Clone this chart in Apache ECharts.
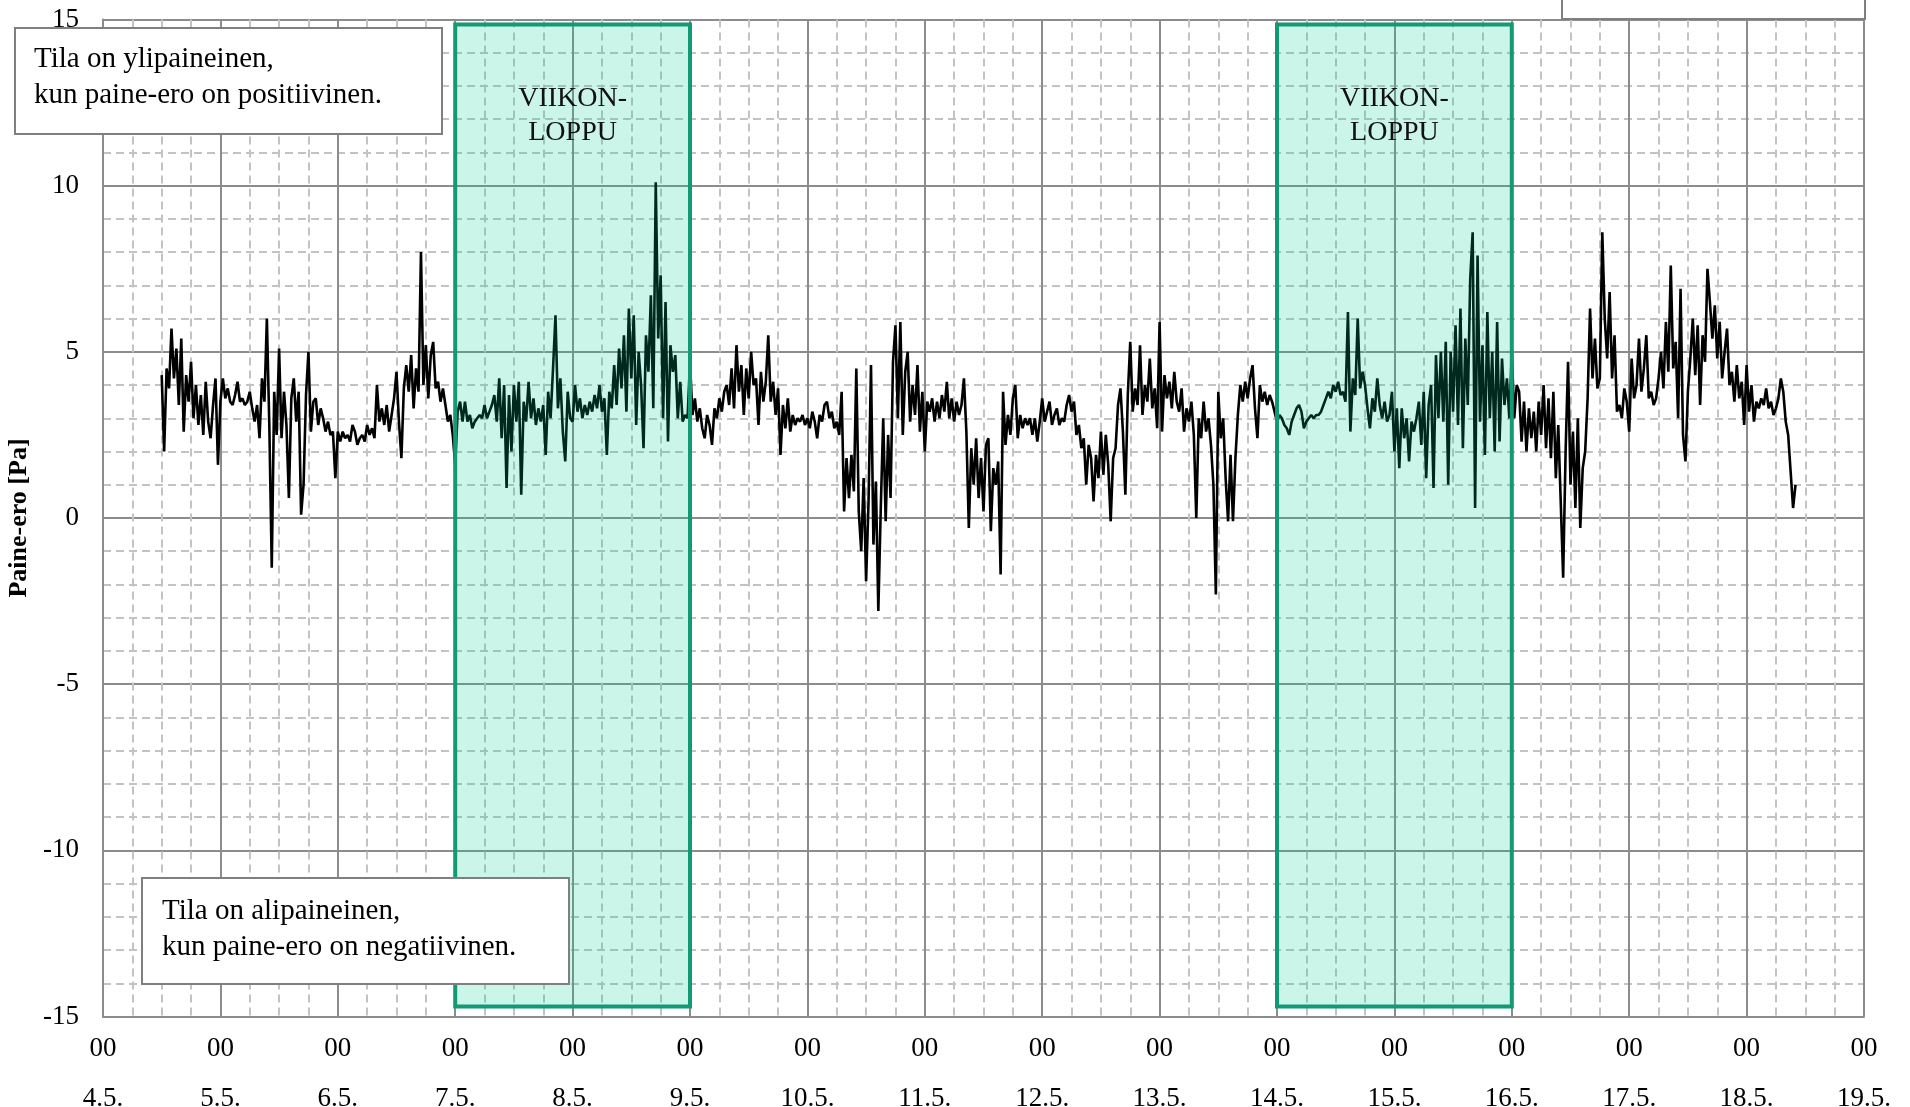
<!DOCTYPE html>
<html>
<head>
<meta charset="utf-8">
<script src="https://cdn.jsdelivr.net/npm/echarts@6/dist/echarts.min.js"></script>
<style>
  html, body { margin: 0; padding: 0; background: #fff; }
  #chart { width: 1910px; height: 1107px; }
</style>
</head>
<body>
<div id="chart"></div>
<script>
// paine-ero mittaus, arvo puolen tunnin valein, alkaa 4.5. klo 12
const START_HOUR = 12;
const STEP_HOUR = 0.5;

const dayLabels = ['4.5.', '5.5.', '6.5.', '7.5.', '8.5.', '9.5.', '10.5.', '11.5.',
  '12.5.', '13.5.', '14.5.', '15.5.', '16.5.', '17.5.', '18.5.', '19.5.'];
const yTicks = [-15, -10, -5, 0, 5, 10, 15];

const weekendFrom = ['7.5.', '14.5.'];
const weekendTo = ['9.5.', '16.5.'];
const weekendText = ['VIIKON-\nLOPPU', 'VIIKON-\nLOPPU'];

const pressure04 = [4.3, 2.0, 4.5, 3.9, 5.7, 4.2, 5.1, 3.4, 5.4, 2.6, 4.3, 3.5, 4.7, 3.0, 4.0, 2.8, 3.7, 2.5, 4.1, 2.9, 2.4, 3.4, 4.2, 1.6];
const pressure05 = [3.5, 4.2, 3.6, 3.9, 3.5, 3.4, 3.7, 4.1, 3.5, 3.6, 3.4, 3.5, 3.8, 3.3, 2.9, 3.4, 2.4, 4.2, 3.5, 6.0,
  2.8, -1.5, 3.8, 2.5, 5.1, 2.4, 3.8, 2.8, 0.6, 3.6, 4.2, 2.9, 3.8, 0.1, 1.0, 3.7, 5.0, 2.6, 3.5, 3.6,
  2.8, 3.3, 3.0, 2.6, 2.9, 2.5, 2.6, 1.2];
const pressure06 = [2.6, 2.3, 2.6, 2.4, 2.5, 2.3, 2.8, 2.6, 2.2, 2.4, 2.5, 2.3, 2.8, 2.5, 2.7, 2.4, 4.0, 2.9, 3.3, 2.8,
  3.4, 2.6, 3.1, 3.6, 4.4, 2.9, 1.8, 3.9, 4.6, 3.8, 4.9, 3.3, 4.5, 3.8, 8.0, 4.0, 5.2, 3.6, 4.9, 5.3,
  3.9, 4.1, 3.5, 3.9, 3.4, 2.9, 3.1, 2.5];
const pressure07 = [1.6, 3.2, 3.5, 2.9, 3.5, 2.9, 3.1, 2.7, 2.9, 3.0, 3.1, 3.0, 3.4, 3.0, 3.2, 3.4, 3.7, 2.9, 4.2, 2.4,
  4.0, 0.9, 3.7, 2.0, 4.0, 2.9, 4.1, 0.7, 3.5, 2.9, 4.1, 3.0, 3.6, 2.8, 3.3, 2.9, 3.4, 1.9, 3.8, 3.0,
  4.5, 6.1, 3.3, 4.2, 2.6, 1.7, 3.8, 3.0];
const pressure08 = [2.9, 4.0, 3.2, 3.6, 3.0, 3.4, 3.1, 3.5, 3.2, 3.7, 3.3, 4.0, 3.2, 3.6, 1.9, 3.8, 3.3, 4.6, 3.4, 5.1,
  3.9, 5.5, 3.2, 6.3, 4.2, 6.1, 2.8, 5.0, 4.0, 2.1, 5.5, 4.4, 6.7, 3.3, 10.1, 5.4, 7.3, 3.0, 6.5, 2.3,
  5.2, 4.4, 4.9, 3.0, 4.1, 2.9, 3.1, 3.0];
const pressure09 = [4.7, 3.1, 3.6, 2.9, 3.3, 2.7, 2.4, 3.1, 2.8, 2.2, 3.3, 3.0, 3.6, 3.2, 3.8, 4.0, 3.4, 4.5, 3.3, 5.2,
  3.8, 4.6, 3.1, 4.5, 3.6, 5.0, 4.0, 4.2, 2.8, 4.4, 3.5, 4.1, 5.5, 3.5, 4.1, 3.1, 3.9, 1.9, 3.4, 2.7,
  3.6, 2.6, 3.1, 2.8, 3.0, 2.9, 3.1, 2.8];
const pressure10 = [3.0, 2.7, 3.2, 2.9, 2.4, 3.1, 2.9, 3.4, 3.5, 3.0, 3.2, 2.7, 2.9, 2.5, 3.8, 0.2, 1.8, 0.6, 1.9, 0.8,
  4.5, 0.2, -1.0, 1.2, -1.9, 0.5, 4.6, -0.8, 1.1, -2.8, 0.3, 3.0, -0.1, 2.5, 0.6, 4.7, 5.8, 3.0, 5.9, 2.5,
  4.4, 5.0, 2.9, 4.0, 3.1, 4.6, 2.6, 3.8];
const pressure11 = [2.0, 3.5, 3.2, 3.6, 2.9, 3.5, 3.0, 3.7, 3.2, 4.1, 3.0, 3.6, 2.9, 3.5, 3.1, 3.4, 4.2, 2.6, -0.3, 2.1,
  1.0, 2.4, 0.6, 1.8, 0.2, 2.2, 2.4, -0.4, 1.5, 1.0, 1.7, -1.7, 3.8, 2.2, 3.1, 2.5, 3.6, 4.0, 2.4, 3.1,
  2.7, 3.0, 2.8, 3.0, 2.5, 3.0, 2.3, 2.9];
const pressure12 = [3.6, 2.9, 3.2, 3.5, 2.8, 3.1, 3.3, 2.8, 3.0, 2.9, 3.4, 3.7, 3.2, 3.5, 2.5, 2.8, 2.1, 2.4, 1.0, 2.2,
  1.8, 0.5, 1.9, 1.2, 2.6, 1.3, 2.5, 1.6, -0.1, 1.8, 2.1, 3.4, 3.9, 2.6, 0.7, 3.7, 5.3, 3.2, 3.9, 3.4,
  5.2, 3.1, 4.0, 3.5, 4.8, 3.3, 3.9, 2.7];
const pressure13 = [5.9, 2.6, 4.3, 3.6, 4.1, 3.3, 4.4, 3.5, 3.2, 3.9, 2.6, 3.3, 2.9, 3.5, 2.5, 0.0, 3.0, 2.4, 3.5, 2.6,
  3.0, 2.2, 1.0, -2.3, 3.8, 2.4, 3.0, 1.2, -0.1, 1.9, -0.1, 1.8, 3.1, 4.0, 3.5, 4.1, 3.6, 4.2, 4.6, 3.3,
  2.4, 4.0, 3.5, 3.8, 3.4, 3.7, 3.5, 3.2];
const pressure14 = [2.9, 3.1, 3.0, 2.8, 2.7, 2.5, 2.9, 3.1, 3.3, 3.4, 3.2, 2.7, 2.9, 3.0, 3.1, 3.0, 3.1, 3.1, 3.2, 3.4,
  3.6, 3.8, 3.6, 4.0, 3.8, 4.1, 3.7, 3.8, 3.5, 6.2, 2.6, 4.2, 3.7, 6.0, 3.9, 4.4, 4.0, 3.3, 2.7, 3.6,
  3.2, 4.2, 3.4, 3.0, 3.5, 2.9, 3.1, 3.8];
const pressure15 = [2.0, 3.3, 1.5, 3.3, 2.4, 3.0, 1.7, 2.9, 2.6, 3.0, 3.5, 2.2, 3.8, 1.2, 3.4, 4.0, 0.9, 4.9, 3.0, 5.0,
  2.9, 5.3, 1.0, 5.0, 3.2, 5.8, 2.8, 6.3, 2.1, 5.4, 3.4, 7.2, 8.6, 0.3, 7.9, 2.9, 5.2, 1.9, 6.2, 3.0,
  5.0, 2.0, 5.9, 2.3, 4.8, 3.4, 4.2, 3.0];
const pressure16 = [5.0, 3.0, 4.0, 3.8, 2.3, 3.5, 2.0, 3.3, 2.4, 3.2, 2.0, 3.5, 2.5, 4.0, 2.1, 3.6, 1.8, 3.8, 1.2, 2.8,
  0.5, -1.8, 2.0, 4.7, 1.0, 2.6, 0.3, 3.0, -0.3, 1.5, 2.0, 3.6, 6.3, 4.2, 5.4, 3.9, 4.2, 8.6, 6.0, 4.8,
  6.8, 4.2, 5.5, 3.2, 3.4, 3.0, 3.9, 3.5];
const pressure17 = [2.6, 4.8, 3.6, 4.0, 5.4, 3.8, 4.5, 5.5, 3.6, 3.8, 3.4, 3.6, 4.2, 5.0, 3.9, 5.9, 4.4, 7.6, 4.5, 5.3,
  3.0, 6.9, 2.5, 1.7, 3.8, 4.8, 6.0, 4.3, 5.8, 3.4, 5.5, 4.7, 7.5, 6.5, 5.4, 6.4, 4.8, 5.9, 4.2, 5.0,
  5.7, 4.0, 4.4, 3.5, 4.6, 3.6, 4.1, 2.8];
const pressure18 = [4.6, 3.2, 4.0, 2.9, 3.5, 3.3, 3.6, 3.4, 3.9, 3.3, 3.5, 3.1, 3.3, 3.6, 4.2, 3.8, 2.9, 2.5, 1.4, 0.3, 1.0];

const FONT = '"Liberation Serif", "Times New Roman", serif';
const GRID_MAJOR = '#8c8c8c';
const GRID_MINOR = '#c3c3c3';

function getOption() {
  const values = [].concat(pressure04, pressure05, pressure06, pressure07, pressure08, pressure09,
    pressure10, pressure11, pressure12, pressure13, pressure14, pressure15, pressure16,
    pressure17, pressure18);
  const lineData = values.map((v, i) => [START_HOUR + i * STEP_HOUR, v]);

  const weekendAreas = weekendFrom.map((from, i) => [
    { name: weekendText[i], xAxis: dayLabels.indexOf(from) * 24, yAxis: 14.85 },
    { xAxis: dayLabels.indexOf(weekendTo[i]) * 24, yAxis: -14.7 }
  ]);

  return {
    animation: false,
    textStyle: { fontFamily: FONT },
    grid: { left: 103, right: 46, top: 19.5, bottom: 90.5, outerBoundsMode: 'none', containLabel: false },
    xAxis: {
      type: 'value',
      min: 0,
      max: (dayLabels.length - 1) * 24,
      interval: 24,
      axisLine: { show: true, onZero: false, lineStyle: { color: GRID_MAJOR, width: 2 } },
      axisTick: { show: false },
      axisLabel: {
        margin: 7,
        fontSize: 27,
        lineHeight: 50,
        color: '#000',
        fontFamily: FONT,
        formatter: (v) => '00\n' + dayLabels[Math.round(v / 24)]
      },
      splitLine: { show: true, lineStyle: { color: GRID_MAJOR, width: 2 } },
      minorTick: { show: false, splitNumber: 4 },
      minorSplitLine: { show: true, lineStyle: { color: GRID_MINOR, width: 2, type: [8, 5] } }
    },
    yAxis: {
      type: 'value',
      min: yTicks[0],
      max: yTicks[yTicks.length - 1],
      interval: 5,
      name: 'Paine-ero [Pa]',
      nameLocation: 'middle',
      nameGap: 70,
      nameTextStyle: { fontSize: 26, fontWeight: 'bold', color: '#000', fontFamily: FONT },
      axisLine: { show: true, onZero: false, lineStyle: { color: GRID_MAJOR, width: 2 } },
      axisTick: { show: false },
      axisLabel: { margin: 24, fontSize: 27, color: '#000', fontFamily: FONT },
      splitLine: { show: true, lineStyle: { color: GRID_MAJOR, width: 2 } },
      minorTick: { show: false, splitNumber: 5 },
      minorSplitLine: { show: true, lineStyle: { color: GRID_MINOR, width: 2, type: [8, 5] } }
    },
    series: [
      {
        name: 'Paine-ero',
        type: 'line',
        data: lineData,
        showSymbol: false,
        symbol: 'none',
        sampling: null,
        lineStyle: { color: '#000', width: 2.6 },
        z: 2
      },
      {
        // viikonloput vihreana laatikkona viivan paalle
        name: 'Viikonloppu',
        type: 'line',
        data: [],
        z: 5,
        markArea: {
          silent: true,
          z: 5,
          itemStyle: { color: 'rgba(0, 204, 150, 0.2)', borderColor: '#119a74', borderWidth: 4 },
          label: {
            show: true,
            position: 'insideTop',
            distance: 59,
            fontSize: 28,
            lineHeight: 34,
            color: '#111',
            fontFamily: FONT
          },
          data: weekendAreas
        }
      }
    ],
    graphic: [
      {
        type: 'rect', z: 100,
        shape: { x: 15, y: 28, width: 427, height: 106 },
        style: { fill: '#fff', stroke: '#7f7f7f', lineWidth: 2 }
      },
      {
        type: 'text', z: 101, x: 34, y: 41,
        style: { text: 'Tila on ylipaineinen,\nkun paine-ero on positiivinen.', font: '29px ' + FONT, fill: '#000', lineHeight: 36, verticalAlign: 'top' }
      },
      {
        type: 'rect', z: 100,
        shape: { x: 142, y: 878, width: 427, height: 106 },
        style: { fill: '#fff', stroke: '#7f7f7f', lineWidth: 2 }
      },
      {
        type: 'text', z: 101, x: 162, y: 893,
        style: { text: 'Tila on alipaineinen,\nkun paine-ero on negatiivinen.', font: '29px ' + FONT, fill: '#000', lineHeight: 36, verticalAlign: 'top' }
      },
      {
        type: 'rect', z: 100,
        shape: { x: 1562, y: -5, width: 303, height: 24 },
        style: { fill: '#fff', stroke: '#7f7f7f', lineWidth: 2 }
      }
    ]
  };
}

const chart = echarts.init(document.getElementById('chart'));
chart.setOption(getOption());
</script>
</body>
</html>
